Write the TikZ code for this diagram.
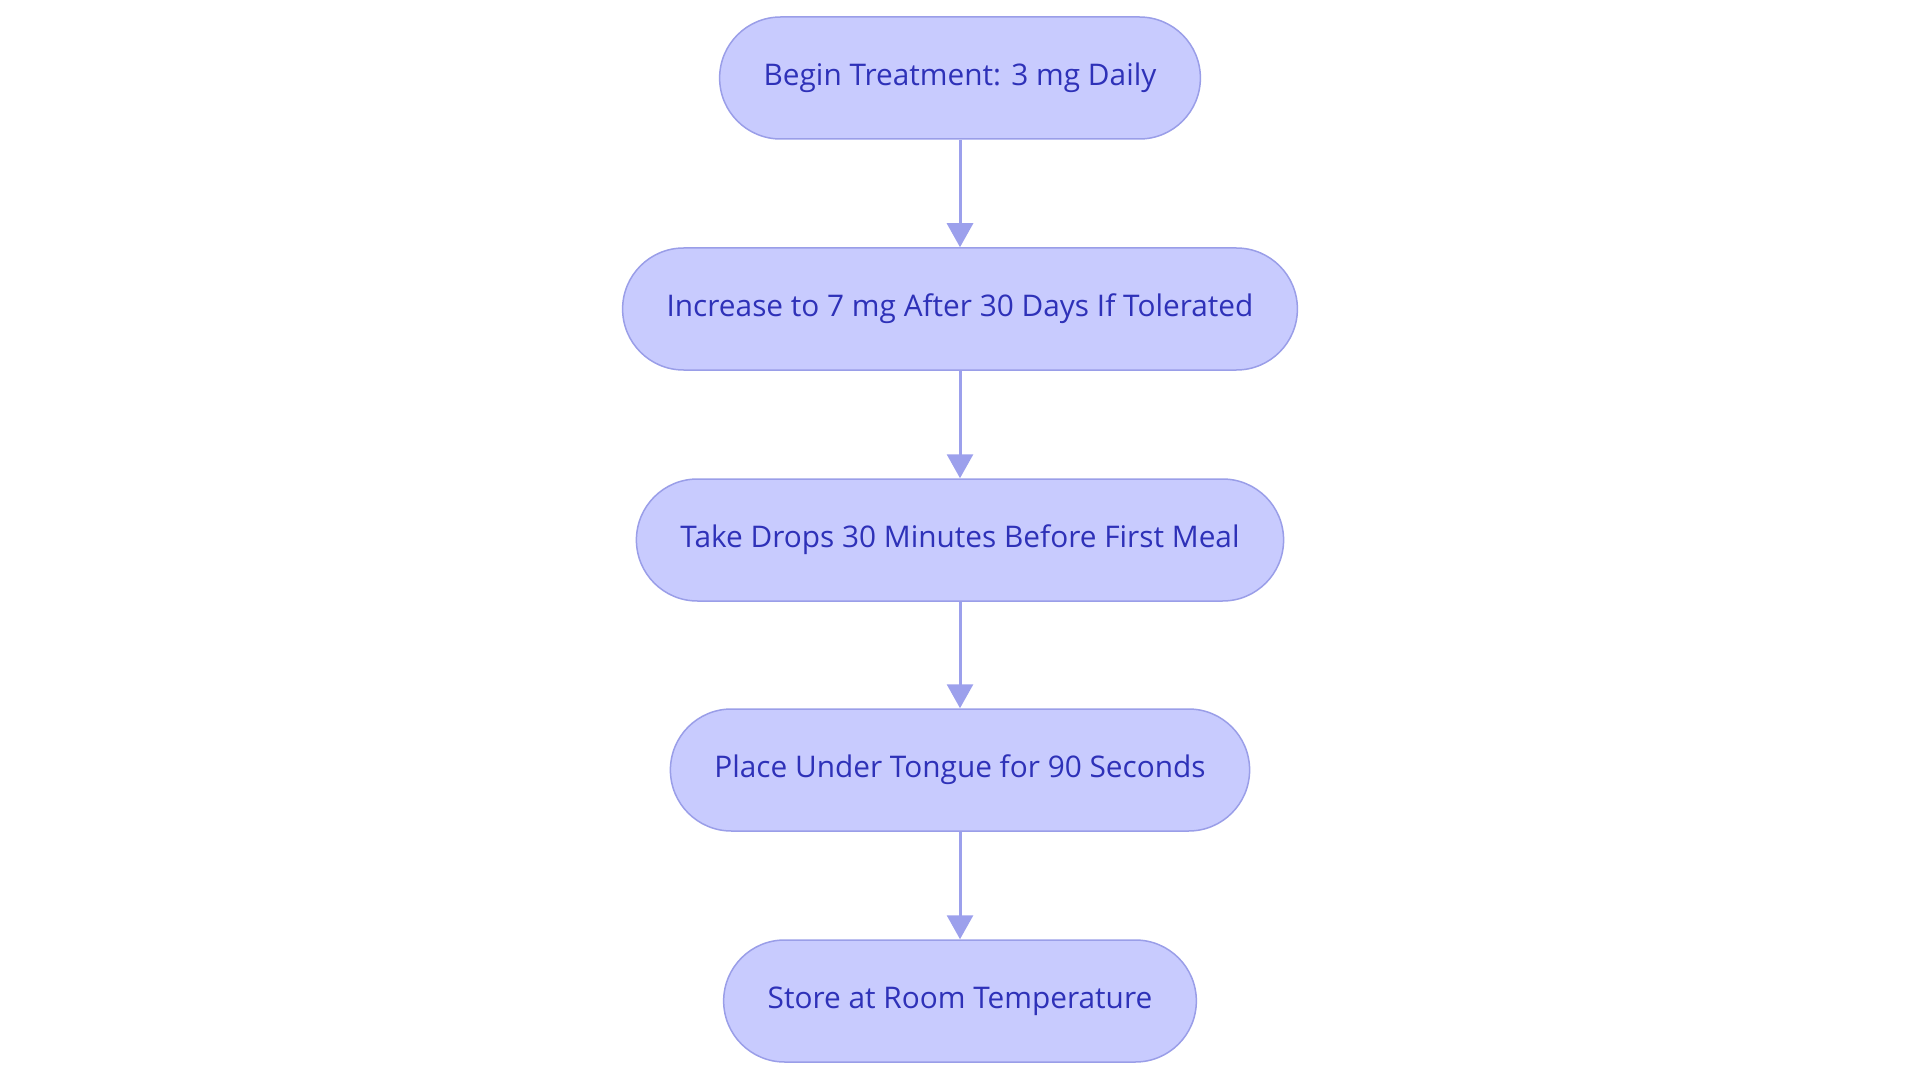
\documentclass[tikz,border=0pt]{standalone}
\usepackage{fontspec}
\setmainfont{Open Sans}
\usetikzlibrary{arrows.meta}

\definecolor{fond}{HTML}{C8CBFE}
\definecolor{bord}{HTML}{9A9EE8}
\definecolor{texte}{HTML}{2E31B8}
\definecolor{fleche}{HTML}{9CA0EC}

\tikzset{
  etape/.style={draw=bord, fill=fond, line width=1.5pt, rounded corners=61pt,
    minimum height=122pt, inner xsep=44pt, text=texte,
    font=\fontsize{29.8}{34}\selectfont},
  lien/.style={fleche, line width=3pt, -{Triangle[width=26pt,length=24pt]}}
}

\begin{document}
\begin{tikzpicture}[x=1pt, y=-1pt]
  % Cadre
  \useasboundingbox (0,0) rectangle (1920,1083);

  % Etapes
  \node[etape] (debut) at (960, 78) {Begin Treatment: 3 mg Daily};
  \node[etape] (hausse) at (960, 309) {Increase to 7 mg After 30 Days If Tolerated};
  \node[etape] (gouttes) at (960, 540) {Take Drops 30 Minutes Before First Meal};
  \node[etape] (langue) at (960, 770) {Place Under Tongue for 90 Seconds};
  \node[etape] (stock) at (960, 1001) {Store at Room Temperature};

  % Fleches
  \draw[lien] (debut) -- (hausse);
  \draw[lien] (hausse) -- (gouttes);
  \draw[lien] (gouttes) -- (langue);
  \draw[lien] (langue) -- (stock);

\end{tikzpicture}
\end{document}
